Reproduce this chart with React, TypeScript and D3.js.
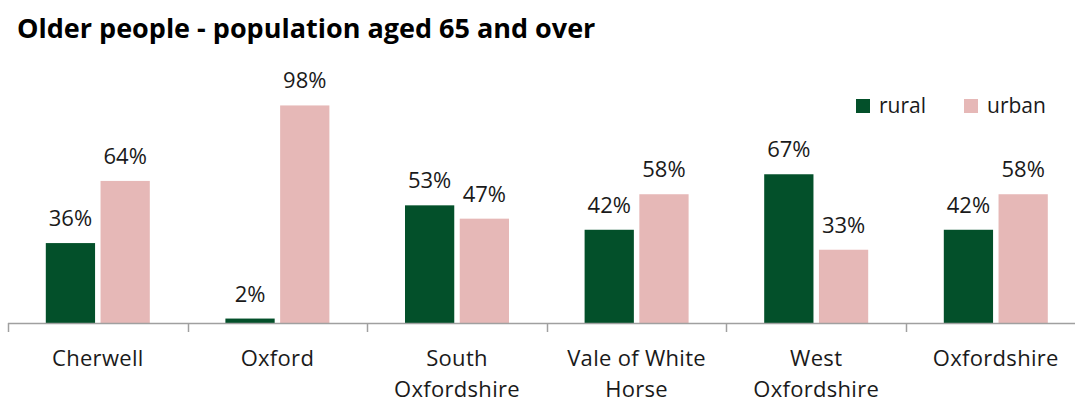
import React from "react";
import * as d3 from "d3";

const categories = [
  ["Cherwell"],
  ["Oxford"],
  ["South", "Oxfordshire"],
  ["Vale of White", "Horse"],
  ["West", "Oxfordshire"],
  ["Oxfordshire"],
];
const seriesNames = ["rural", "urban"];
const rural = [0.36, 0.02, 0.53, 0.42, 0.67, 0.42];
const urban = [0.64, 0.98, 0.47, 0.58, 0.33, 0.58];
const colors = ["#03502A", "#E6B8B7"];

const W = 1075;
const H = 403;
const FONT = "'Open Sans', sans-serif";

export default function App() {
  const keys = categories.map((c) => c.join(" "));
  const x0 = d3.scaleBand<string>().domain(keys).range([8, 8 + 6 * 179.6]);
  const x1 = d3
    .scaleBand<string>()
    .domain(seriesNames)
    .range([-52, 52])
    .paddingInner(0.1);
  const y = d3.scaleLinear().domain([0, 1]).range([323, 101]);
  const fmt = d3.format(".0%");
  const series = [rural, urban];

  return (
    <svg
      width={W}
      height={H}
      style={{ position: "absolute", left: 0, top: 0, background: "#fff" }}
      fontFamily={FONT}
    >
      <text x={17} y={38} fontSize={27} fontWeight="bold" fill="#000">
        Older people - population aged 65 and over
      </text>

      {/* legend */}
      {seriesNames.map((s, i) => {
        const lx = i === 0 ? 856 : 964;
        return (
          <g key={s}>
            <rect x={lx} y={99} width={14} height={14} fill={colors[i]} />
            <text x={lx + 23} y={113} fontSize={21} fill="#1a1a1a">
              {s}
            </text>
          </g>
        );
      })}

      {/* bars and value labels */}
      {keys.map((k, ci) => {
        const cx = (x0(k) as number) + x0.bandwidth() / 2;
        return (
          <g key={k}>
            {series.map((vals, si) => {
              const bx = cx + (x1(seriesNames[si]) as number);
              const v = vals[ci];
              return (
                <g key={si}>
                  <rect
                    x={bx}
                    y={y(v)}
                    width={x1.bandwidth()}
                    height={y(0) - y(v)}
                    fill={colors[si]}
                  />
                  <text
                    x={bx + x1.bandwidth() / 2}
                    y={y(v) - 17}
                    textAnchor="middle"
                    fontSize={22}
                    fill="#1a1a1a"
                  >
                    {fmt(v)}
                  </text>
                </g>
              );
            })}
          </g>
        );
      })}

      {/* category axis */}
      <line x1={8} x2={W} y1={323.5} y2={323.5} stroke="#a0a0a0" strokeWidth={1.5} />
      {d3.range(keys.length + 1).map((i) => {
        const tx = Math.round(8 + i * x0.step()) + 0.5;
        return (
          <line key={i} x1={tx} x2={tx} y1={323} y2={332} stroke="#a0a0a0" strokeWidth={1.5} />
        );
      })}
      {keys.map((k, ci) => {
        const cx = (x0(k) as number) + x0.bandwidth() / 2;
        return (
          <text key={k} textAnchor="middle" fontSize={22} fill="#1a1a1a" letterSpacing={0.3}>
            {categories[ci].map((line, li) => (
              <tspan key={li} x={cx} y={366 + li * 31}>
                {line}
              </tspan>
            ))}
          </text>
        );
      })}
    </svg>
  );
}
